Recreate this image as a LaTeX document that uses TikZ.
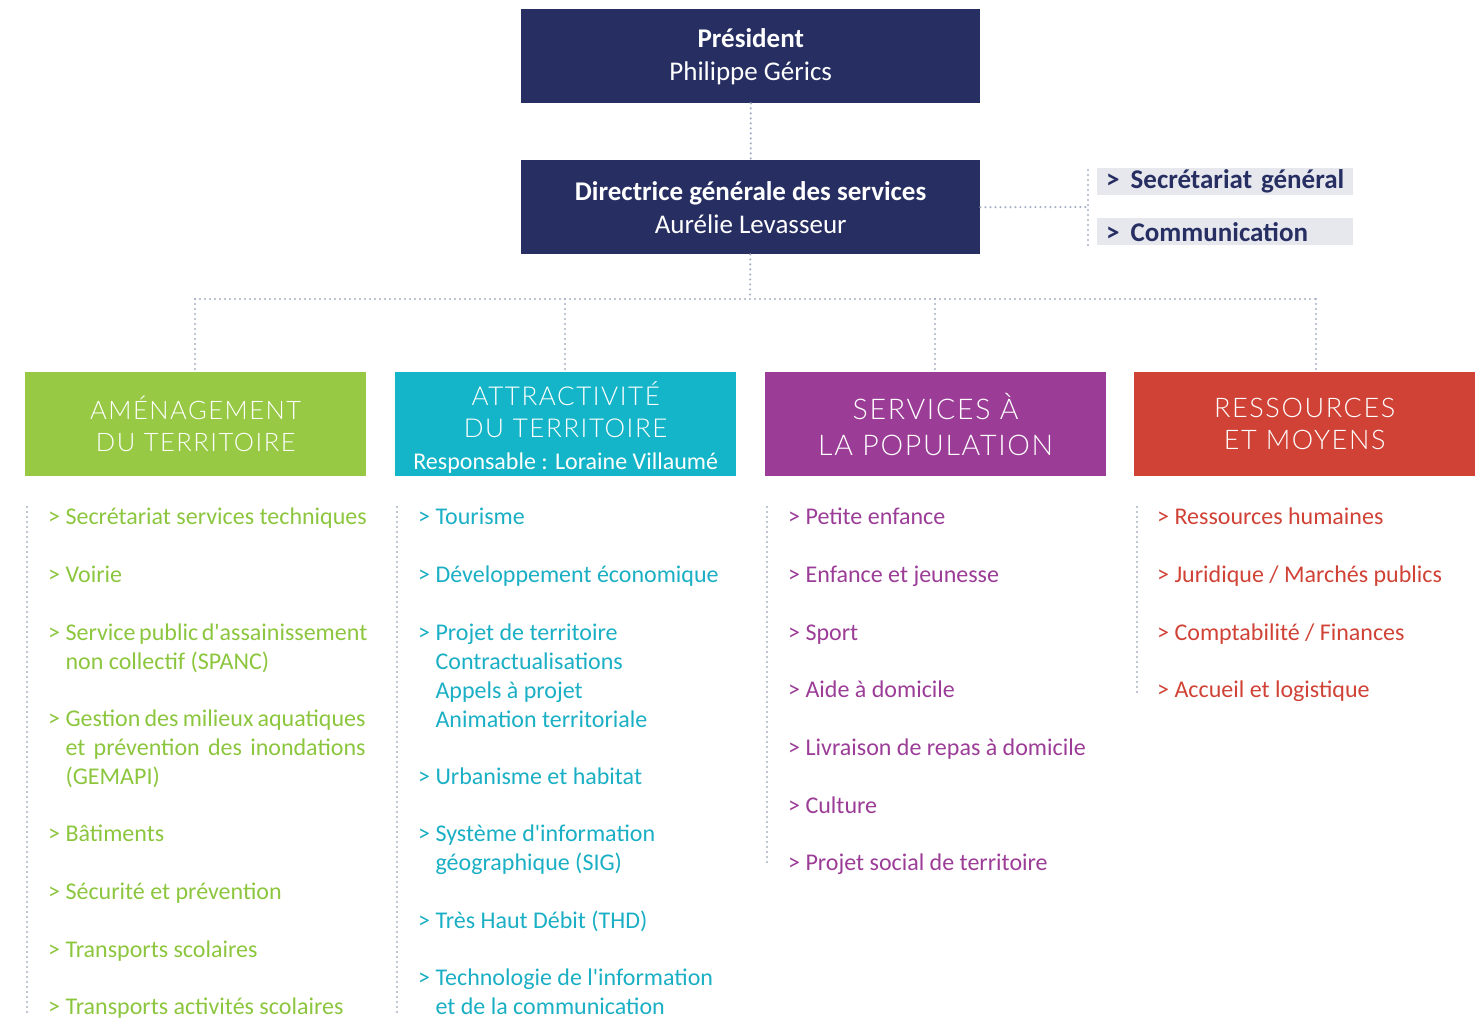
\documentclass[tikz,border=0pt]{standalone}
\usepackage{fontspec}
\setmainfont{Carlito}
\newfontfamily\headfont[LetterSpace=6]{Lato Light}
\usetikzlibrary{positioning}

\definecolor{navy}{HTML}{272F62}
\definecolor{linkgray}{HTML}{A8B2C6}
\definecolor{sidegray}{HTML}{E6E8EE}
\definecolor{amgreen}{HTML}{97C945}
\definecolor{atcyan}{HTML}{14B5C8}
\definecolor{sepurple}{HTML}{9B3C97}
\definecolor{rered}{HTML}{D04236}
\definecolor{amtext}{HTML}{8CC63E}
\definecolor{attext}{HTML}{1AAFC4}

\newcommand{\entry}[1]{\textgreater\ \begin{tabular}[t]{@{}l@{}}#1\end{tabular}}
\newcommand{\resp}[1]{{\normalfont\fontsize{24}{32}\selectfont #1}}
\newcommand{\sidetxt}[1]{\mbox{>\hspace{11pt}#1}}

\tikzset{
    boss/.style={fill=navy, text=white, anchor=north west, minimum width=459pt, minimum height=94pt,
        align=center, font=\fontsize{27}{33}\selectfont, inner sep=0pt},
    side/.style={fill=sidegray, text=navy, anchor=north west, minimum width=256pt, minimum height=27pt,
        inner xsep=9pt, inner ysep=0pt, text width=238pt, align=left, font=\fontsize{27}{27}\selectfont\bfseries},
    head/.style={text=white, anchor=north west, minimum width=341pt, minimum height=104pt,
        align=center, inner sep=0pt, font=\headfont\fontsize{27}{32}\selectfont},
    item/.style={anchor=base west, inner sep=0pt, font=\fontsize{24}{29}\selectfont},
    link/.style={draw=linkgray, line width=2.4pt, dash pattern=on 0pt off 5pt, line cap=round},
}

\begin{document}
\begin{tikzpicture}[x=1pt, y=-1pt]
    \useasboundingbox (0,0) rectangle (1480,1018);

    % top of the chart
    \node[boss] (pres) at (521,9) {\textbf{Président}\\Philippe Gérics};
    \node[boss] (dgs) at (521,160) {\textbf{Directrice générale des services}\\Aurélie Levasseur};

    % attached services
    \node[side] (secgen) at (1097,168) {\sidetxt{Secrétariat général}};
    \node[side] (comm) at (1097,218) {\sidetxt{Communication}};

    % the four poles
    \node[head, fill=amgreen, font=\headfont\fontsize{25.5}{32}\selectfont] (amen) at (25,372) {AMÉNAGEMENT\\DU TERRITOIRE};
    \node[head, fill=atcyan, font=\headfont\fontsize{26}{32}\selectfont] (attr) at (395,372) {\rule{0pt}{31pt}ATTRACTIVITÉ\\DU TERRITOIRE\\\resp{Responsable : Loraine Villaumé}};
    \node[head, fill=sepurple, font=\headfont\fontsize{28.5}{36}\selectfont] (serv) at (765,372) {SERVICES À\\LA POPULATION};
    \node[head, fill=rered] (ress) at (1134,372) {RESSOURCES\\ET MOYENS};

    % links
    \coordinate (bus) at (750,299);
    \coordinate (busl) at (195,299);
    \coordinate (busr) at (1316,299);
    \coordinate (tapb) at (565,299);
    \coordinate (tapc) at (935,299);
    \coordinate (sidebar) at (1088,207);
    \path[link] (pres) -- (dgs);
    \path[link] (dgs) -- (bus);
    \path[link] (busl) -- (busr);
    \path[link] (busl) -- (busl |- amen.north);
    \path[link] (tapb) -- (tapb |- attr.north);
    \path[link] (tapc) -- (tapc |- serv.north);
    \path[link] (busr) -- (busr |- ress.north);
    \path[link] (dgs.east) -- (sidebar);
    \path[link] (1088,170) -- (1088,245);

    % side rules of the lists
    \path[link] (27,507) -- (27,1014);
    \path[link] (397,507) -- (397,1014);
    \path[link] (767,507) -- (767,866);
    \path[link] (1137,507) -- (1137,694);

    % Aménagement du territoire
    \foreach \y/\txt [count=\i] in {516/{Secrétariat services techniques}, 574/{Voirie},
        632/{\makebox[300pt][s]{Service public d\textquotesingle assainissement}\\non collectif (SPANC)},
        718/{\makebox[300pt][s]{Gestion des milieux aquatiques}\\\makebox[300pt][s]{et prévention des inondations}\\(GEMAPI)},
        833/{Bâtiments}, 891/{Sécurité et prévention}, 949/{Transports scolaires},
        1006/{Transports activités scolaires}} {
        \node[item, text=amtext] (am\i) at (48,\y+8) {\entry{\txt}};
    }

    % Attractivité du territoire
    \foreach \y/\txt [count=\i] in {516/{Tourisme}, 574/{Développement économique},
        632/{Projet de territoire\\Contractualisations\\Appels à projet\\Animation territoriale},
        776/{Urbanisme et habitat}, 833/{Système d\textquotesingle information\\géographique (SIG)},
        920/{Très Haut Débit (THD)}, 977/{Technologie de l\textquotesingle information\\et de la communication}} {
        \node[item, text=attext] (at\i) at (418,\y+8) {\entry{\txt}};
    }

    % Services à la population
    \foreach \y/\txt [count=\i] in {516/{Petite enfance}, 574/{Enfance et jeunesse}, 632/{Sport},
        689/{Aide à domicile}, 747/{Livraison de repas à domicile}, 805/{Culture},
        862/{Projet social de territoire}} {
        \node[item, text=sepurple] (se\i) at (788,\y+8) {\entry{\txt}};
    }

    % Ressources et moyens
    \foreach \y/\txt [count=\i] in {516/{Ressources humaines}, 574/{Juridique / Marchés publics},
        632/{Comptabilité / Finances}, 689/{Accueil et logistique}} {
        \node[item, text=rered] (re\i) at (1157,\y+8) {\entry{\txt}};
    }

\end{tikzpicture}
\end{document}
